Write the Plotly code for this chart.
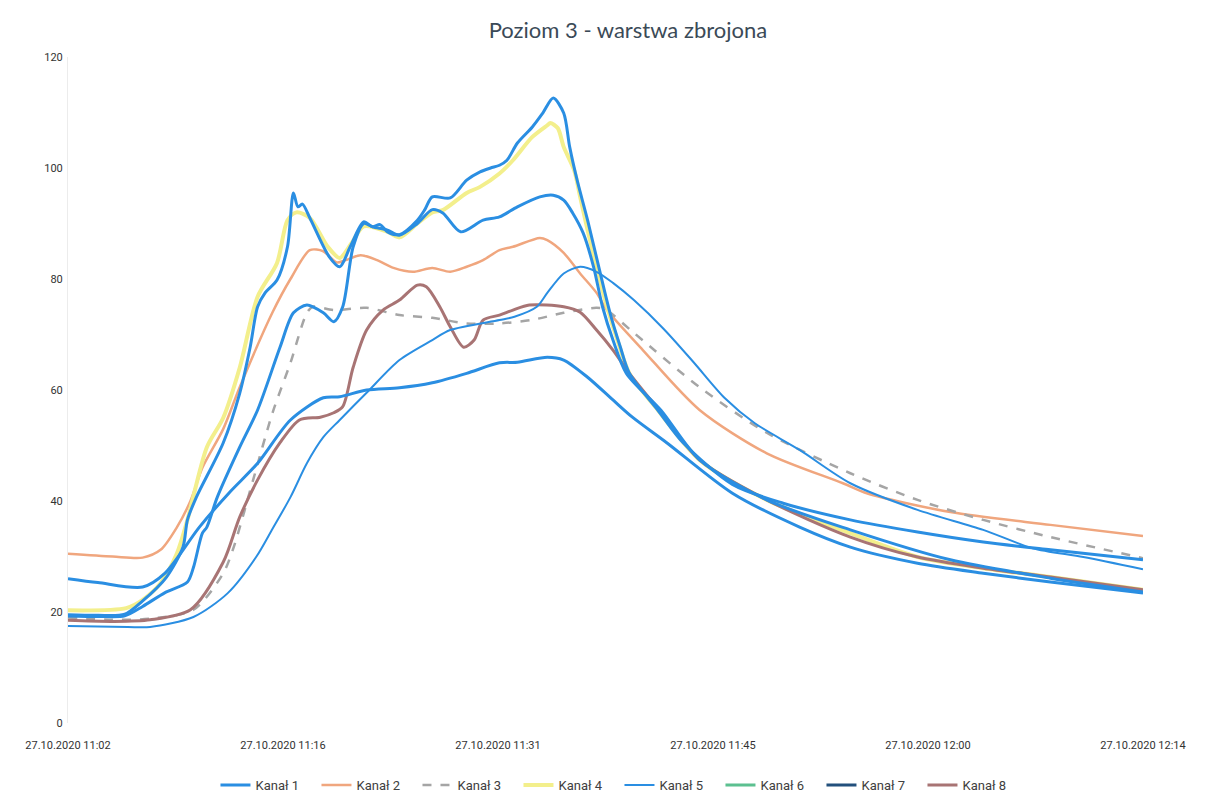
import plotly.graph_objects as go
import pandas as pd

# ---------------- data (minutes after 27.10.2020 11:02, value) ----------------
START = pd.Timestamp("2020-10-27 11:02:00")

tick_minutes = [0, 14.4, 28.8, 43.2, 57.6, 72]
tick_labels = ["27.10.2020 11:02", "27.10.2020 11:16", "27.10.2020 11:31",
               "27.10.2020 11:45", "27.10.2020 12:00", "27.10.2020 12:14"]

channels = ["Kanał 1", "Kanał 2", "Kanał 3", "Kanał 4",
            "Kanał 5", "Kanał 6", "Kanał 7", "Kanał 8"]

k1_min = [0, 2, 3.8, 5.0, 6.6, 7.7, 8.0, 8.6, 10.4, 11.5, 12.2, 12.7, 13.2, 14.0, 14.7,
          15.1, 15.4, 15.7, 16.2, 17.5, 18.2, 18.9, 19.8, 20.4, 20.9, 21.4, 22.2, 23.4,
          23.9, 24.4, 25.6, 26.7, 27.6, 28.3, 28.9, 29.4, 30.1, 31.1, 31.8, 32.5, 33.2,
          33.6, 34.1, 34.8, 35.6, 36.3, 37.0, 37.6, 39.5, 41.2, 44.5, 47.9, 52.4, 56.9,
          61.3, 65.8, 72]
k1_val = [19.5, 19.4, 19.6, 22.0, 26.3, 31.7, 36.6, 40.7, 50.5, 59.4, 67.7, 75.0, 77.5,
          79.8, 85.8, 95.5, 93.0, 93.5, 91.0, 84.0, 82.2, 85.8, 90.3, 89.4, 89.8, 88.5,
          88.0, 90.6, 92.5, 94.8, 94.6, 97.8, 99.3, 100.0, 100.5, 101.4, 104.5, 107.4,
          109.9, 112.6, 109.9, 103.8, 97.8, 90.6, 81.6, 73.9, 67.7, 63.0, 56.4, 50.5,
          43.0, 39.6, 36.6, 34.4, 32.6, 31.2, 29.4]

k2_min = [0, 3, 5, 6.2, 7.3, 8.2, 9.0, 10.4, 11.5, 13.7, 14.9, 16.2, 17.1, 18.0, 18.6,
          19.6, 20.7, 21.8, 23.1, 24.4, 25.6, 26.7, 27.8, 28.9, 29.8, 31.6, 32.1, 33.2,
          34.3, 35.4, 36.1, 38.5, 42.3, 46.8, 51.9, 53.5, 59.1, 65.8, 72]
k2_val = [30.5, 30.0, 29.8, 31.2, 35.3, 40.0, 46.0, 53.0, 60.5, 74.0, 80.0, 85.2, 85.0,
          83.0, 83.4, 84.3, 83.4, 82.0, 81.3, 82.0, 81.3, 82.2, 83.4, 85.2, 85.8, 87.4,
          87.0, 84.7, 81.0, 77.5, 74.4, 67.2, 56.4, 48.6, 43.2, 41.4, 38.0, 35.7, 33.7]

k3_min = [0, 3, 5.5, 8.4, 10.4, 11.1, 12.4, 13.7, 14.9, 16.0, 16.4, 17.8, 20.0, 22.2,
          24.4, 26.7, 28.9, 31.0, 33.2, 35.4, 36.0, 37.9, 42.3, 46.8, 52.4, 56.9, 61.3,
          65.8, 72]
k3_val = [19.0, 18.6, 18.8, 20.4, 27.0, 31.7, 43.8, 55.9, 64.9, 73.9, 75.0, 74.4, 74.8,
          73.5, 73.0, 72.0, 72.0, 72.6, 73.9, 74.8, 74.5, 70.3, 60.5, 52.3, 45.0, 40.2,
          36.6, 33.5, 29.7]

k4_min = [0, 3.9, 5.0, 6.2, 7.3, 8.0, 9.3, 10.4, 11.5, 12.7, 14.0, 14.7, 15.3, 16.2,
          17.4, 18.2, 19.0, 19.8, 21.4, 22.2, 23.4, 24.4, 25.1, 26.7, 27.6, 28.9, 29.8,
          31.1, 32.1, 32.3, 32.8, 33.2, 33.9, 34.3, 34.8, 35.4, 36.1, 36.8, 37.6, 39.5,
          42.3, 46.8, 52.4, 56.9, 61.3, 65.8, 72]
k4_val = [20.3, 20.7, 22.2, 25.2, 30.6, 36.6, 49.7, 55.0, 64.0, 76.8, 82.9, 90.6, 92.0,
          91.0, 85.8, 83.8, 86.5, 89.5, 88.5, 87.5, 90.0, 92.0, 92.4, 95.5, 96.6, 99.0,
          101.4, 105.6, 107.7, 108.1, 107.2, 103.8, 99.6, 94.8, 88.8, 82.2, 75.0, 69.0,
          63.0, 56.4, 47.4, 40.2, 34.2, 29.9, 27.9, 26.3, 24.0]

k5_min = [0, 4, 5.5, 8.4, 10.7, 12.6, 13.7, 14.9, 16.0, 17.1, 18.2, 20.0, 22.2, 24.4,
          25.6, 28.9, 29.9, 31.4, 32.1, 33.2, 34.3, 35.4, 36.5, 37.9, 39.9, 41.9, 44.0,
          46.0, 49.0, 52.4, 56.9, 61.3, 64.6, 68.0, 72]
k5_val = [17.5, 17.3, 17.3, 19.1, 23.4, 29.9, 35.0, 40.7, 46.8, 51.5, 54.6, 59.5, 65.4,
          69.0, 70.8, 72.6, 73.2, 75.0, 77.5, 81.0, 82.2, 81.3, 79.3, 76.2, 71.0, 65.0,
          58.5, 54.0, 49.2, 43.2, 38.4, 34.8, 31.5, 29.9, 27.7]

k6_min = [0, 2, 3.8, 5, 6.5, 8, 8.4, 9, 9.3, 10, 11.5, 12.7, 14.2, 15.1, 16, 17.1, 17.8,
          18.4, 19.1, 19.8, 20.4, 21.4, 22.2, 23.4, 24.4, 25.1, 26.3, 27.8, 28.9, 30.1,
          31.6, 32.5, 33.2, 33.8, 34.5, 35.2, 35.8, 36.5, 37.4, 39.7, 42.3, 46.8, 52.4,
          59.1, 65.8, 72]
k6_val = [19.3, 19.2, 19.3, 21.0, 23.5, 25.4, 28.0, 34.2, 35.3, 40.7, 49.7, 56.4, 67.7,
          73.9, 75.3, 73.9, 72.3, 75.0, 85.8, 90.0, 89.4, 88.8, 87.9, 90.0, 92.5, 91.9,
          88.5, 90.6, 91.2, 93.0, 94.8, 95.1, 94.2, 91.9, 88.3, 82.2, 75.0, 69.0, 63.0,
          56.4, 47.4, 40.2, 34.8, 29.4, 26.1, 23.6]

k7_min = [0, 2, 5, 6.5, 8.8, 10.8, 12.7, 14.9, 17.1, 18.2, 20.0, 22.2, 24.4, 26.7, 28.9,
          30.1, 32.1, 33.2, 34.8, 36.5, 37.8, 40.1, 44.5, 49.0, 52.4, 56.9, 61.3, 65.8, 72]
k7_val = [26.0, 25.3, 24.5, 27.0, 35.3, 41.5, 46.8, 54.6, 58.6, 58.8, 60.0, 60.4, 61.3,
          63.0, 64.9, 65.0, 65.9, 65.4, 62.3, 58.2, 55.1, 50.5, 41.4, 35.3, 31.7, 28.8,
          27.0, 25.4, 23.4]

k8_min = [0, 3, 5.5, 8.2, 10.4, 11.5, 12.7, 14.2, 15.5, 16.9, 17.8, 18.4, 19.1, 20.0,
          21.1, 22.2, 23.4, 24.0, 24.9, 25.6, 26.5, 27.2, 27.8, 28.9, 29.8, 30.9, 33.2,
          34.3, 35.4, 36.5, 37.6, 39.7, 42.3, 46.8, 52.4, 56.9, 61.3, 65.8, 72]
k8_val = [18.5, 18.3, 18.6, 20.4, 29.0, 37.1, 43.8, 50.5, 54.6, 55.1, 55.9, 57.0, 64.1,
          70.8, 74.4, 76.2, 78.9, 78.6, 75.0, 71.4, 67.7, 69.0, 72.6, 73.5, 74.4, 75.3,
          75.0, 74.0, 70.8, 67.2, 63.0, 56.0, 47.4, 40.2, 33.5, 29.9, 27.9, 26.3, 24.0]

series_minutes = [k1_min, k2_min, k3_min, k4_min, k5_min, k6_min, k7_min, k8_min]
series_values = [k1_val, k2_val, k3_val, k4_val, k5_val, k6_val, k7_val, k8_val]

# ---------------- styles ----------------
BLUE = "#2a8ee2"
line_colors = [BLUE, "#f0a67e", "#a5a5a5", "#f3ef8c", BLUE, BLUE, BLUE, "#a87474"]
legend_colors = ["#3d9ee8", "#f2a87c", "#a0a0a0", "#f2f0a0", "#4aa0e0", "#5cc090",
                 "#23507c", "#b07c7c"]
line_widths = [3, 2.5, 2.5, 4, 2, 3, 3, 3]
line_dash = ["solid", "solid", "dash", "solid", "solid", "solid", "solid", "solid"]
draw_order = [1, 2, 3, 7, 4, 6, 5, 0]  # pale/colored lines first, blues on top


def to_time(mins):
    return [START + pd.Timedelta(minutes=m) for m in mins]


fig = go.Figure()
for i in draw_order:
    own_legend = i not in (5, 6)
    fig.add_trace(go.Scatter(
        x=to_time(series_minutes[i]), y=series_values[i], mode="lines",
        name=channels[i], legendgroup=channels[i], legendrank=i + 1,
        showlegend=own_legend,
        line=dict(color=line_colors[i], width=line_widths[i], dash=line_dash[i],
                  shape="spline", smoothing=0.8),
    ))
    if not own_legend:
        fig.add_trace(go.Scatter(
            x=[None], y=[None], mode="lines", name=channels[i],
            legendgroup=channels[i], legendrank=i + 1, showlegend=True,
            line=dict(color=legend_colors[i], width=3),
        ))

# page body has an 8px margin: figure is 8px smaller and positions compensate
fig.update_layout(
    width=1205, height=790,
    paper_bgcolor="white", plot_bgcolor="white",
    margin=dict(l=60, r=70, t=49, b=75, autoexpand=False),
    title=dict(text="Poziom 3 - warstwa zbrojona", x=0.5145, xanchor="center",
               y=0.972, yanchor="middle",
               font=dict(family="Lato", size=22, color="#3b4a57")),
    showlegend=True,
    legend=dict(orientation="h", x=0.513, xanchor="center",
                yref="container", y=1 - 777 / 790, yanchor="middle",
                entrywidth=56, entrywidthmode="pixels",
                font=dict(family="Roboto", size=13, color="#404040"),
                bgcolor="rgba(0,0,0,0)"),
    font=dict(family="Roboto", size=11, color="#404040"),
)
fig.update_xaxes(
    type="date", range=[START, START + pd.Timedelta(minutes=72)],
    tickvals=to_time(tick_minutes), ticktext=tick_labels,
    showgrid=False, zeroline=False, showline=False, automargin=False,
    ticks="outside", ticklen=12, tickcolor="rgba(0,0,0,0)",
    tickfont=dict(family="Roboto", size=11, color="#333333"),
)
fig.update_yaxes(
    range=[0, 120], tickvals=[0, 20, 40, 60, 80, 100, 120],
    showgrid=False, zeroline=False, showline=True, linecolor="#ececec", linewidth=1,
    automargin=False,
    ticks="outside", ticklen=2, tickcolor="rgba(0,0,0,0)",
    tickfont=dict(family="Roboto", size=11, color="#333333"),
)

fig.write_html("out.html")
